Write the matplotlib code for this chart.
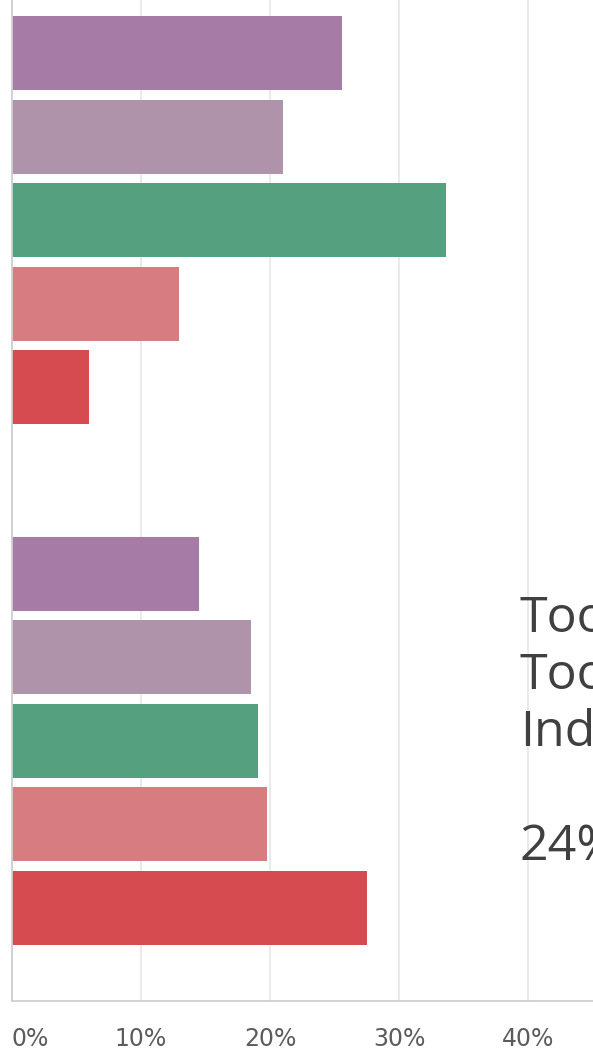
import matplotlib
matplotlib.use('Agg')
import matplotlib.pyplot as plt
import numpy as np

# ---- data ----
groups = ['Group 1', 'Group 2']
series = ['Series 1', 'Series 2', 'Series 3', 'Series 4', 'Series 5']
values_group1 = [25.6, 21.0, 33.6, 13.0, 6.0]
values_group2 = [14.5, 18.5, 19.1, 19.8, 27.5]
colors = ['#a67ba6', '#ae93ab', '#55a07f', '#d87d7f', '#d64b50']
tick_values = [0, 10, 20, 30, 40]
tick_labels = ['0%', '10%', '20%', '30%', '40%']
tooltip_lines = ['Too', 'Too', 'Inde', '', '24%']

W, H = 593, 1054
fig = plt.figure(figsize=(W / 100, H / 100), dpi=100)
ax = fig.add_axes([11.5 / W, 53 / H, (W - 11.5) / W, 1041 / H])

all_values = [values_group1, values_group2]
pitch = 0.1604
bar_h = 0.142
for i, name in enumerate(series):
    ypos = [g + (i - 2) * pitch for g in range(len(groups))]
    vals = [all_values[g][i] for g in range(len(groups))]
    ax.barh(ypos, vals, height=bar_h, color=colors[i], label=name, zorder=2)

ax.set_ylim(1.5, -0.5)
ax.set_xlim(0, 45)
ax.set_yticks([])
ax.set_xticks(tick_values, tick_labels)
ax.tick_params(axis='x', length=0, pad=19, labelsize=17, labelcolor='#5c5c5c')
for lab in ax.get_xticklabels()[:1]:
    lab.set_ha('left')
ax.xaxis.grid(True, color='#e8e8e8', lw=1.3, zorder=0)
ax.set_axisbelow(True)
for s in ['top', 'right']:
    ax.spines[s].set_visible(False)
for s in ['left', 'bottom']:
    ax.spines[s].set_color('#cfcfcf')
    ax.spines[s].set_linewidth(1.3)

# clipped tooltip text at the right edge
for k, line in enumerate(tooltip_lines):
    if line:
        fig.text(520 / W, 1 - (632 + 57 * k) / H, line, fontsize=36,
                 family=['Open Sans', 'DejaVu Sans'], color='#404040', va='baseline', ha='left')

fig.savefig('out.png', dpi=100)
